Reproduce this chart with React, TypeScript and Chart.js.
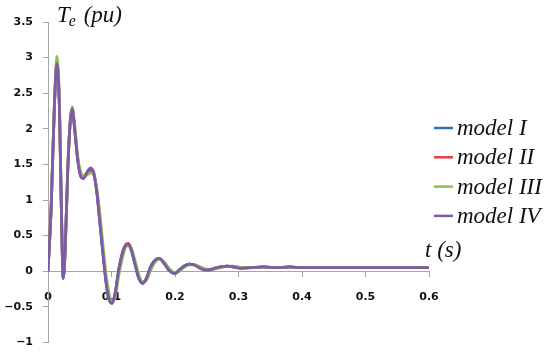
import React, { useEffect, useRef } from "react";
import { Chart, registerables } from "chart.js";

Chart.register(...registerables);

// time axis (s)
const tValues = [0, 0.005, 0.01, 0.014, 0.018, 0.021, 0.024, 0.027, 0.031, 0.035, 0.038, 0.042, 0.047, 0.052, 0.056, 0.061, 0.067, 0.072, 0.077, 0.082, 0.087, 0.092, 0.097, 0.101, 0.106, 0.111, 0.117, 0.122, 0.126, 0.131, 0.137, 0.143, 0.149, 0.155, 0.161, 0.168, 0.175, 0.182, 0.189, 0.195, 0.2, 0.207, 0.214, 0.222, 0.23, 0.238, 0.246, 0.254, 0.262, 0.272, 0.282, 0.292, 0.305, 0.32, 0.34, 0.36, 0.38, 0.4, 0.45, 0.5, 0.55, 0.6];

// Te (pu) per model
const modelI = [0, 0.9, 2.3, 2.91, 2.3, 0.9, -0.1, 0.3, 1.4, 2.1, 2.28, 2.0, 1.55, 1.33, 1.31, 1.38, 1.44, 1.38, 1.1, 0.66, 0.21, -0.19, -0.42, -0.45, -0.3, 0.0, 0.25, 0.36, 0.38, 0.3, 0.1, -0.1, -0.17, -0.1, 0.05, 0.15, 0.18, 0.12, 0.03, -0.02, -0.03, 0.02, 0.07, 0.1, 0.09, 0.05, 0.02, 0.02, 0.04, 0.06, 0.07, 0.06, 0.04, 0.05, 0.06, 0.05, 0.06, 0.05, 0.05, 0.05, 0.05, 0.05];
const modelII = [0, 0.9, 2.3, 2.94, 2.3, 0.9, -0.1, 0.3, 1.4, 2.1, 2.29, 2.0, 1.56, 1.35, 1.33, 1.37, 1.41, 1.36, 1.12, 0.7, 0.25, -0.16, -0.4, -0.44, -0.31, -0.02, 0.24, 0.37, 0.39, 0.32, 0.12, -0.08, -0.16, -0.11, 0.04, 0.14, 0.18, 0.13, 0.04, -0.01, -0.03, 0.01, 0.06, 0.1, 0.09, 0.06, 0.03, 0.02, 0.04, 0.06, 0.07, 0.06, 0.05, 0.05, 0.06, 0.05, 0.06, 0.05, 0.05, 0.05, 0.05, 0.05];
const modelIII = [0, 0.92, 2.35, 3.02, 2.38, 0.95, -0.08, 0.28, 1.38, 2.12, 2.31, 2.05, 1.6, 1.38, 1.34, 1.35, 1.38, 1.35, 1.15, 0.78, 0.33, -0.08, -0.35, -0.43, -0.36, -0.08, 0.18, 0.33, 0.36, 0.33, 0.15, -0.05, -0.15, -0.13, 0.0, 0.12, 0.17, 0.14, 0.06, 0.0, -0.02, 0.0, 0.05, 0.09, 0.09, 0.07, 0.04, 0.02, 0.03, 0.05, 0.07, 0.07, 0.05, 0.05, 0.06, 0.05, 0.06, 0.05, 0.05, 0.05, 0.05, 0.05];
const modelIV = [0, 0.9, 2.3, 2.92, 2.3, 0.9, -0.1, 0.3, 1.4, 2.1, 2.28, 2.0, 1.55, 1.32, 1.3, 1.38, 1.45, 1.38, 1.1, 0.65, 0.2, -0.2, -0.42, -0.45, -0.3, 0.0, 0.25, 0.36, 0.38, 0.3, 0.1, -0.1, -0.17, -0.1, 0.05, 0.15, 0.18, 0.12, 0.03, -0.02, -0.03, 0.02, 0.07, 0.1, 0.09, 0.05, 0.02, 0.02, 0.04, 0.06, 0.07, 0.06, 0.04, 0.05, 0.06, 0.05, 0.06, 0.05, 0.05, 0.05, 0.05, 0.05];

const seriesNames = ["model I", "model II", "model III", "model IV"];
const seriesColors = ["#2E75B6", "#E0403F", "#8DC04D", "#7F5AA8"];
const seriesValues = [modelI, modelII, modelIII, modelIV];

const yTickValues = [-1, -0.5, 0, 0.5, 1, 1.5, 2, 2.5, 3, 3.5];
const xTickValues = [0, 0.1, 0.2, 0.3, 0.4, 0.5, 0.6];

const AXIS_GRAY = "#A6A6A6";
const TEXT = "#111111";
const SERIF = '"Liberation Serif", "Times New Roman", serif';

const overlayPlugin = {
  id: "overlay",
  afterDraw(chart: any) {
    const { ctx, chartArea, scales } = chart;
    ctx.save();
    ctx.fillStyle = TEXT;
    ctx.textBaseline = "alphabetic";
    ctx.textAlign = "left";
    // y axis title: T_e (pu)
    const tx = chartArea.left + 9;
    const ty = chartArea.top;
    ctx.font = `italic 23px ${SERIF}`;
    ctx.fillText("T", tx, ty);
    const wT = ctx.measureText("T").width;
    ctx.font = `italic 16px ${SERIF}`;
    ctx.fillText("e", tx + wT - 1, ty + 4);
    const we = ctx.measureText("e").width;
    ctx.font = `italic 23px ${SERIF}`;
    ctx.fillText(" (pu)", tx + wT - 1 + we + 2, ty);
    // x axis title
    const y0 = scales.y.getPixelForValue(0);
    ctx.fillText("t (s)", chartArea.right - 4, y0 - 14);
    // legend
    const lx = chartArea.right + 5;
    const ly = chartArea.top + 106;
    ctx.textBaseline = "middle";
    seriesNames.forEach((name, i) => {
      const yy = ly + i * 29.3;
      ctx.strokeStyle = seriesColors[i];
      ctx.lineWidth = 2.5;
      ctx.beginPath();
      ctx.moveTo(lx, yy);
      ctx.lineTo(lx + 19, yy);
      ctx.stroke();
      ctx.fillStyle = TEXT;
      ctx.font = `italic 23px ${SERIF}`;
      ctx.fillText(name, lx + 23, yy + 1);
    });
    ctx.restore();
  },
};

export default function App() {
  const canvasRef = useRef<HTMLCanvasElement | null>(null);

  useEffect(() => {
    if (!canvasRef.current) return;
    const datasets = seriesNames.map((name, i) => ({
      label: name,
      data: tValues.map((t, k) => ({ x: t, y: seriesValues[i][k] })),
      borderColor: seriesColors[i],
      backgroundColor: seriesColors[i],
      borderWidth: 2.8,
      pointRadius: 0,
      cubicInterpolationMode: "monotone" as const,
      fill: false,
      order: seriesNames.length - 1 - i,
    }));
    const tickFont = { family: '"DejaVu Sans", sans-serif', size: 11, weight: "bold" as const };
    const chart = new Chart(canvasRef.current, {
      type: "line",
      data: { datasets },
      plugins: [overlayPlugin],
      options: {
        animation: false,
        responsive: false,
        maintainAspectRatio: false,
        devicePixelRatio: 1,
        layout: { padding: { top: 22, right: 121, bottom: 13, left: 0 } },
        plugins: { legend: { display: false }, tooltip: { enabled: false } },
        scales: {
          x: {
            type: "linear",
            min: 0,
            max: 0.6,
            position: { y: 0 } as any,
            afterBuildTicks: (scale: any) => {
              scale.ticks = xTickValues.map((v) => ({ value: v }));
            },
            ticks: {
              color: TEXT,
              font: tickFont,
              padding: 14,
              maxRotation: 0,
              autoSkip: false,
              callback: (v: any) => String(Number(Number(v).toFixed(1))),
            },
            grid: { display: true, drawOnChartArea: false, drawTicks: true, tickLength: 5, color: AXIS_GRAY },
            border: { display: true, color: AXIS_GRAY, width: 1 },
          },
          y: {
            type: "linear",
            min: -1,
            max: 3.5,
            afterFit: (scale: any) => {
              scale.width = 48;
            },
            afterBuildTicks: (scale: any) => {
              scale.ticks = yTickValues.map((v) => ({ value: v }));
            },
            ticks: {
              color: TEXT,
              font: tickFont,
              padding: 10,
              autoSkip: false,
              callback: (v: any) => {
                const n = Number(Number(v).toFixed(1));
                return n < 0 ? "\u2212" + String(-n) : String(n);
              },
            },
            grid: { display: true, drawOnChartArea: false, drawTicks: true, tickLength: 5, color: AXIS_GRAY },
            border: { display: true, color: AXIS_GRAY, width: 1 },
          },
        },
      },
    });
    return () => chart.destroy();
  }, []);

  return (
    <div style={{ position: "fixed", left: 0, top: 0, width: 550, height: 355, overflow: "hidden", background: "#fff" }}>
      <canvas ref={canvasRef} width={550} height={359} style={{ display: "block" }} />
    </div>
  );
}
